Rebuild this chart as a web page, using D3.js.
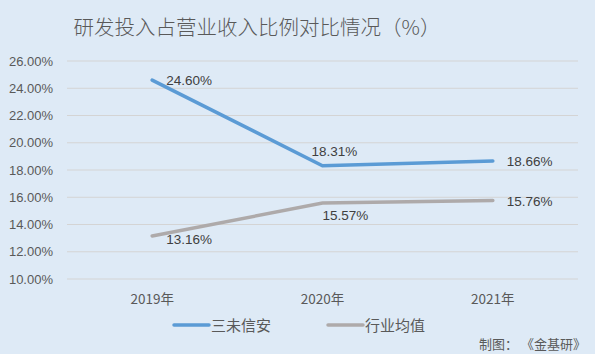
<!DOCTYPE html>
<html>
<head>
<meta charset="utf-8">
<script src="https://cdn.jsdelivr.net/npm/d3@7"></script>
<style>
  body { margin: 0; background: #deeaf6; }
  svg { display: block; font-family: "Noto Sans CJK SC", "Noto Sans", sans-serif; }
</style>
</head>
<body>
<script>
// data
const years = ["2019年", "2020年", "2021年"];
const sanwei = [24.60, 18.31, 18.66];
const industry = [13.16, 15.57, 15.76];
const yTicks = [10, 12, 14, 16, 18, 20, 22, 24, 26];
const seriesNames = ["三未信安", "行业均值"];

const w = 595, h = 354;
const svg = d3.select("body").append("svg").attr("width", w).attr("height", h);

svg.append("rect").attr("width", w).attr("height", h).attr("fill", "#deeaf6");

// title
svg.append("text")
  .attr("x", 257).attr("y", 35)
  .attr("text-anchor", "middle")
  .attr("font-size", 20.5)
  .attr("font-weight", 300)
  .attr("fill", "#595959")
  .text("研发投入占营业收入比例对比情况（%）");

const x = d3.scaleBand().domain(years).range([67, 578]);
const y = d3.scaleLinear().domain([10, 26]).range([279, 61]);

// gridlines
svg.append("g").selectAll("line")
  .data(yTicks).enter().append("line")
  .attr("x1", 67).attr("x2", 578)
  .attr("y1", d => y(d)).attr("y2", d => y(d))
  .attr("stroke", "#d4d4d4").attr("stroke-width", 1);

// y axis labels
svg.append("g").selectAll("text")
  .data(yTicks).enter().append("text")
  .attr("x", 53).attr("y", d => y(d) + 4.5)
  .attr("text-anchor", "end")
  .attr("font-family", "Liberation Sans, sans-serif")
  .attr("font-size", 13)
  .attr("fill", "#595959")
  .text(d => d.toFixed(2) + "%");

// x axis labels
svg.append("g").selectAll("text")
  .data(years).enter().append("text")
  .attr("x", d => x(d) + x.bandwidth() / 2)
  .attr("y", 304)
  .attr("text-anchor", "middle")
  .attr("font-size", 13.5)
  .attr("fill", "#595959")
  .text(d => d);

const line = d3.line()
  .x((d, i) => x(years[i]) + x.bandwidth() / 2)
  .y(d => y(d));

svg.append("path").datum(industry)
  .attr("d", line).attr("fill", "none")
  .attr("stroke", "#aeaaaa").attr("stroke-width", 3.5)
  .attr("stroke-linecap", "round");

svg.append("path").datum(sanwei)
  .attr("d", line).attr("fill", "none")
  .attr("stroke", "#5b9bd5").attr("stroke-width", 3.5)
  .attr("stroke-linecap", "round");

// data labels: offsets per point
const sanweiOff = [[14, 5], [-11, -10], [14, 5]];
const industryOff = [[14, 8], [0, 17], [14, 5]];

function labels(values, offs) {
  svg.append("g").selectAll("text")
    .data(values).enter().append("text")
    .attr("x", (d, i) => x(years[i]) + x.bandwidth() / 2 + offs[i][0])
    .attr("y", (d, i) => y(d) + offs[i][1])
    .attr("font-family", "Liberation Sans, sans-serif")
    .attr("font-size", 13.5)
    .attr("fill", "#404040")
    .text(d => d.toFixed(2) + "%");
}
labels(sanwei, sanweiOff);
labels(industry, industryOff);

// legend
const legendX = [174, 328];
const colors = ["#5b9bd5", "#aeaaaa"];
seriesNames.forEach((name, i) => {
  svg.append("line")
    .attr("x1", legendX[i]).attr("x2", legendX[i] + 35)
    .attr("y1", 325).attr("y2", 325)
    .attr("stroke", colors[i]).attr("stroke-width", 3.5)
    .attr("stroke-linecap", "round");
  svg.append("text")
    .attr("x", legendX[i] + 37).attr("y", 330.5)
    .attr("font-size", 15)
    .attr("fill", "#595959")
    .text(name);
});

// source note
svg.append("text")
  .attr("x", 586).attr("y", 349)
  .attr("text-anchor", "end")
  .attr("font-size", 13)
  .attr("fill", "#595959")
  .text("制图： 《金基研》");
</script>
</body>
</html>
